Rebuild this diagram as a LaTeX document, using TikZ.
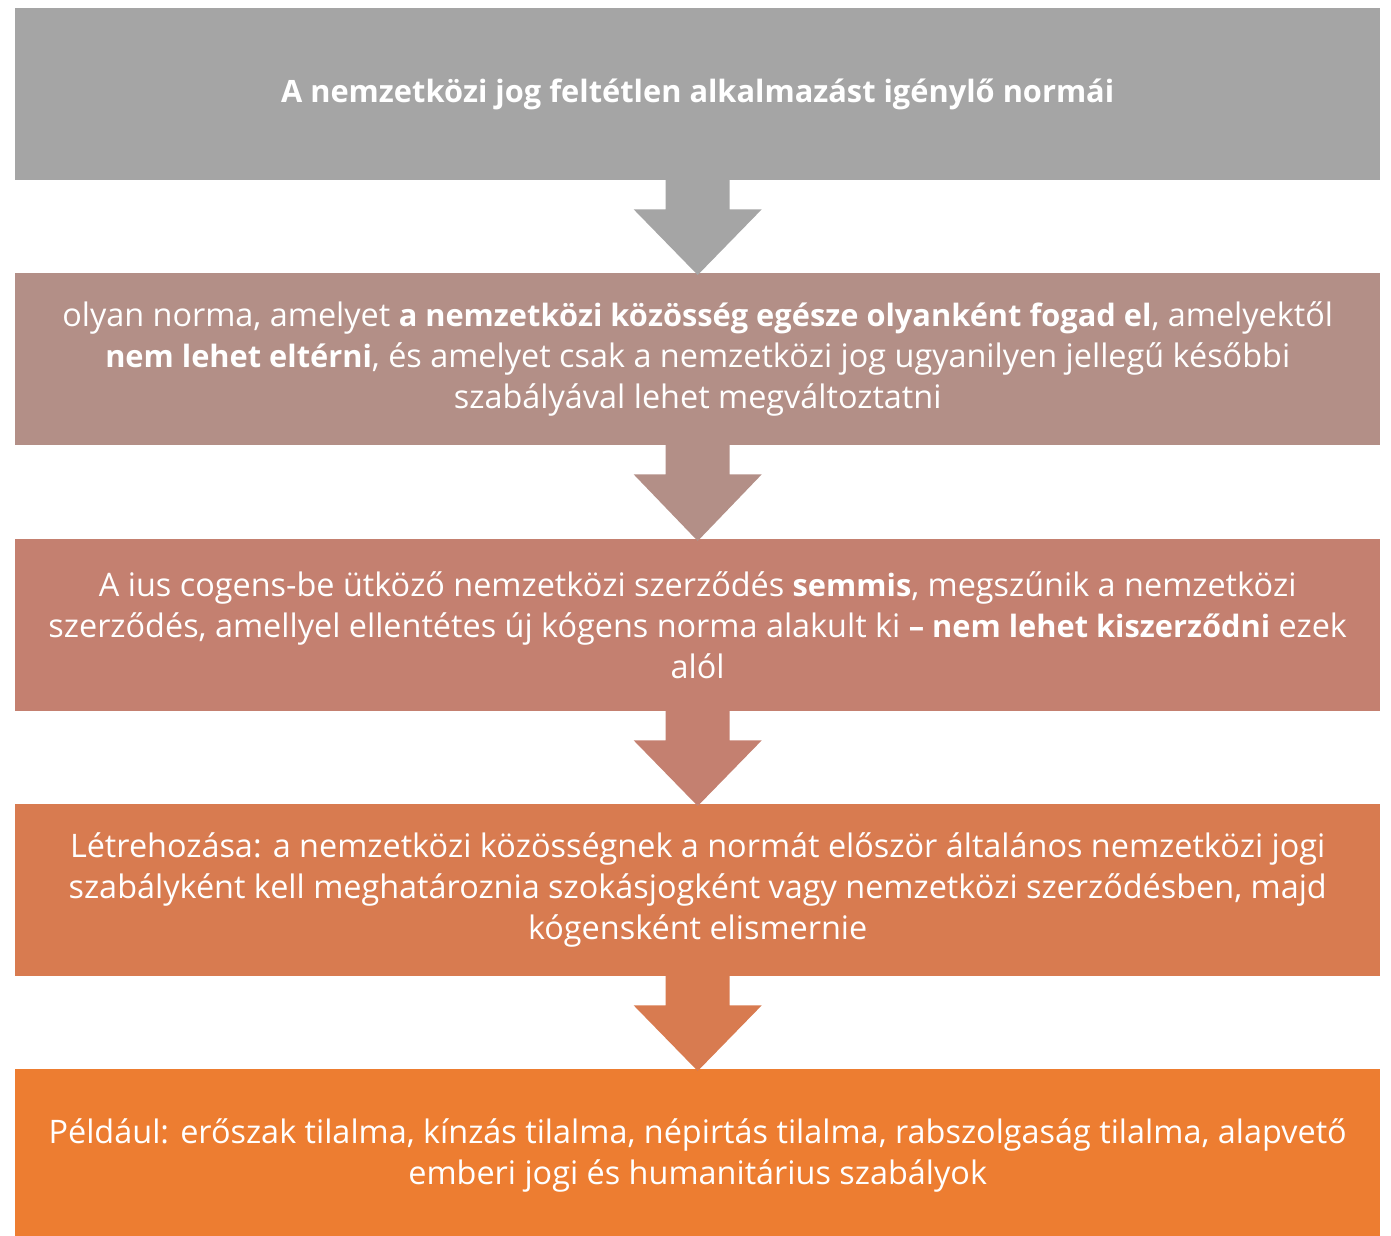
\documentclass[tikz,border=0pt]{standalone}
\usepackage{fontspec}
\setmainfont{Open Sans}[BoldFeatures={Scale=0.95}]
\usetikzlibrary{calc}
\definecolor{c1}{HTML}{A5A5A5}
\definecolor{c2}{HTML}{B38F87}
\definecolor{c3}{HTML}{C48070}
\definecolor{c4}{HTML}{D87B50}
\definecolor{c5}{HTML}{ED7D31}
\begin{document}
\begin{tikzpicture}[x=1pt,y=-1pt]
\useasboundingbox (0,0) rectangle (1391,1235);
\tikzset{blk/.style={minimum width=1365pt, minimum height=172pt, inner sep=0pt, text=white, align=center, font=\fontsize{32.4}{41}\selectfont, anchor=north west}}
\node[blk, fill=c1] (b1) at (15,8) {\textbf{A nemzetközi jog feltétlen alkalmazást igénylő normái}};
\node[blk, fill=c2] (b2) at (15,273) {olyan norma, amelyet \textbf{a nemzetközi közösség egésze olyanként fogad el}, amelyektől\\ \textbf{nem lehet eltérni}, és amelyet csak a nemzetközi jog ugyanilyen jellegű későbbi\\ szabályával lehet megváltoztatni};
\node[blk, fill=c3] (b3) at (15,539) {A ius cogens-be ütköző nemzetközi szerződés \textbf{semmis}, megszűnik a nemzetközi\\ szerződés, amellyel ellentétes új kógens norma alakult ki \textbf{– nem lehet kiszerződni} ezek\\ alól};
\node[blk, fill=c4] (b4) at (15,804) {Létrehozása: a nemzetközi közösségnek a normát először általános nemzetközi jogi\\ szabályként kell meghatároznia szokásjogként vagy nemzetközi szerződésben, majd\\ kógensként elismernie};
\node[blk, fill=c5] (b5) at (15,1069) {Például: erőszak tilalma, kínzás tilalma, népirtás tilalma, rabszolgaság tilalma, alapvető\\ emberi jogi és humanitárius szabályok};
\foreach \a/\b/\c in {b1/b2/c1,b2/b3/c2,b3/b4/c3,b4/b5/c4}{
  \fill[\c] ($(\a.south)+(-32,-1)$) -- ($(\a.south)+(-32,29)$) -- ($(\a.south)+(-64,29)$) -- ($(\b.north)+(0,2)$) -- ($(\a.south)+(64,29)$) -- ($(\a.south)+(32,29)$) -- ($(\a.south)+(32,-1)$) -- cycle;
}
\end{tikzpicture}
\end{document}
